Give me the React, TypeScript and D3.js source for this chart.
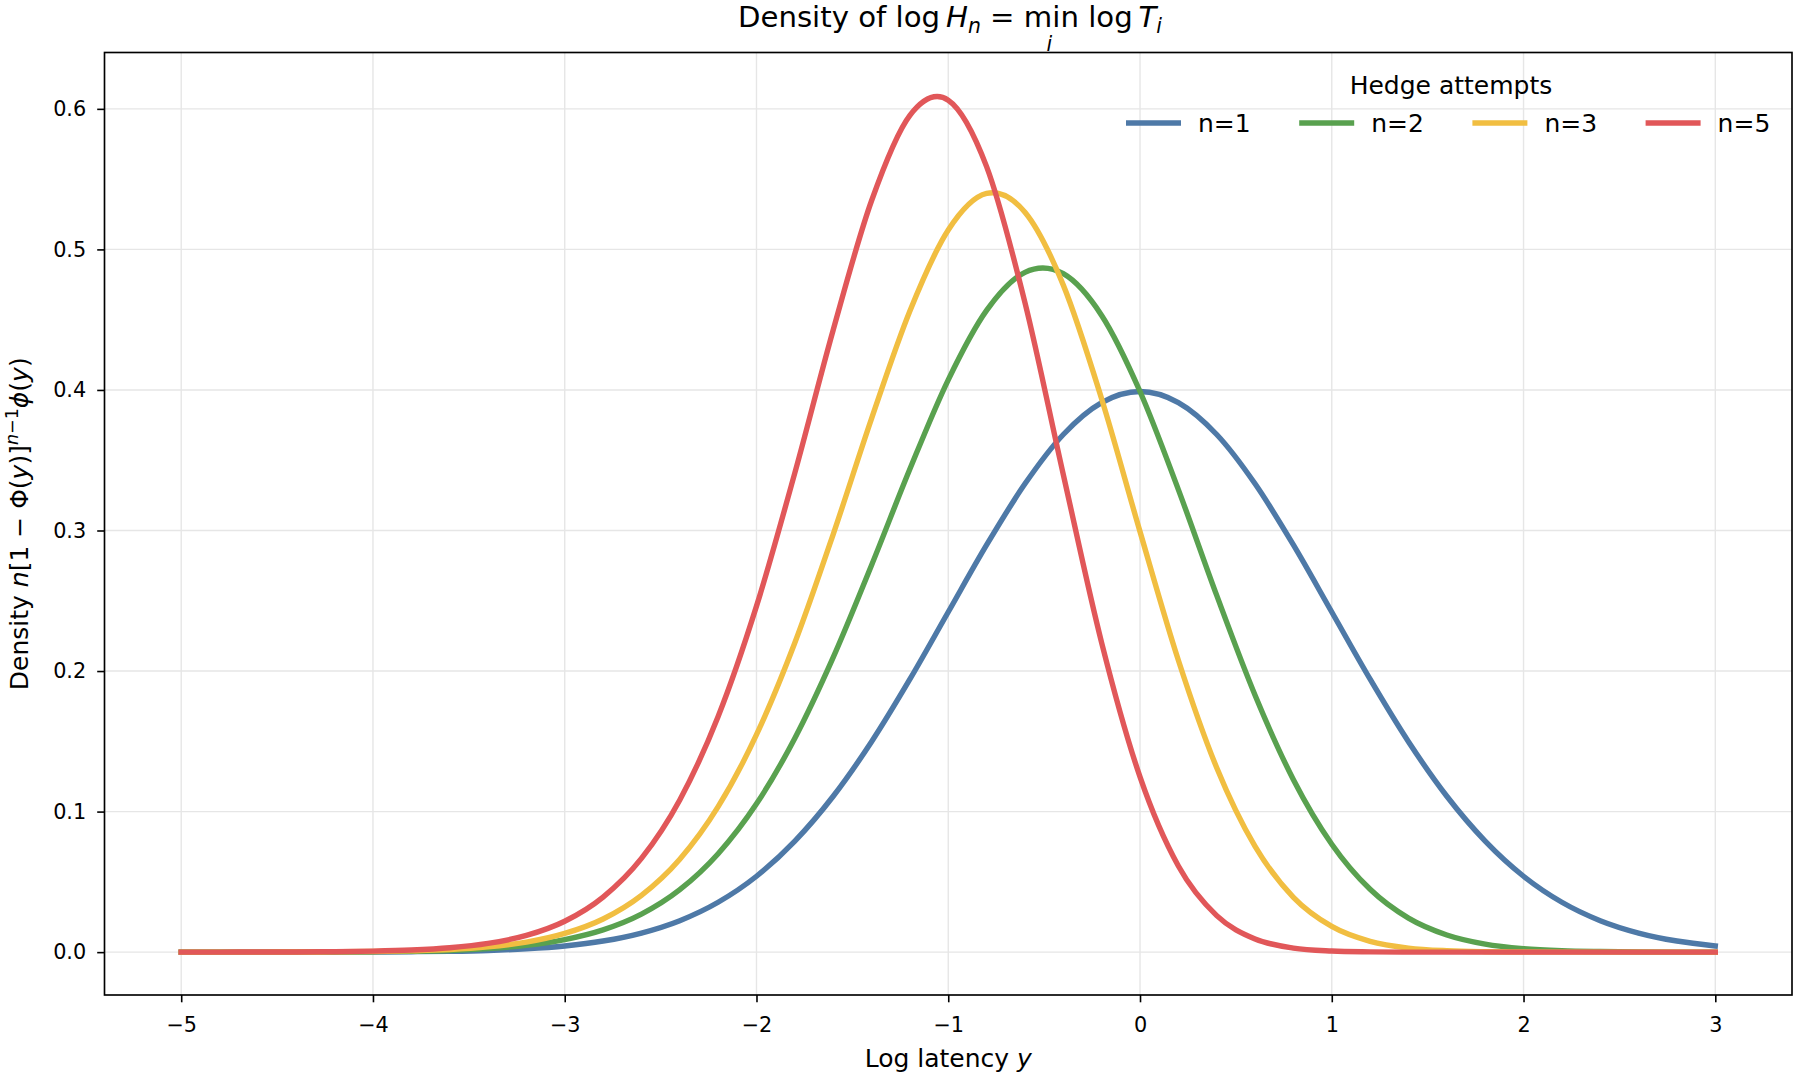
import { useEffect, useRef } from 'react';
import * as d3 from 'd3';

// log latency grid the curves were read on
const logLatency = [
    -5.0, -4.8, -4.6, -4.4, -4.2, -4.0, -3.8, -3.6, -3.4, -3.2,
    -3.0, -2.8, -2.6, -2.4, -2.2, -2.0, -1.8, -1.6, -1.4, -1.2,
    -1.0, -0.8, -0.6, -0.4, -0.2, 0.0, 0.2, 0.4, 0.6, 0.8,
    1.0, 1.2, 1.4, 1.6, 1.8, 2.0, 2.2, 2.4, 2.6, 2.8, 3.0,
];

const seriesNames = ['n=1', 'n=2', 'n=3', 'n=5'];
const seriesColors = ['#4e79a7', '#59a14f', '#f1be41', '#e15759'];

const densityN1 = [
    0.0000, 0.0000, 0.0000, 0.0000, 0.0001, 0.0001, 0.0003, 0.0006, 0.0012, 0.0024,
    0.0044, 0.0079, 0.0136, 0.0224, 0.0355, 0.0540, 0.0790, 0.1109, 0.1497, 0.1942,
    0.2420, 0.2897, 0.3332, 0.3683, 0.3910, 0.3989, 0.3910, 0.3683, 0.3332, 0.2897,
    0.2420, 0.1942, 0.1497, 0.1109, 0.0790, 0.0540, 0.0355, 0.0224, 0.0136, 0.0079, 0.0044,
];

const densityN2 = [
    0.0000, 0.0000, 0.0000, 0.0001, 0.0001, 0.0003, 0.0006, 0.0012, 0.0025, 0.0048,
    0.0089, 0.0158, 0.0270, 0.0444, 0.0700, 0.1055, 0.1522, 0.2097, 0.2753, 0.3437,
    0.4072, 0.4566, 0.4837, 0.4827, 0.4530, 0.3989, 0.3291, 0.2538, 0.1828, 0.1227,
    0.0768, 0.0447, 0.0242, 0.0122, 0.0057, 0.0025, 0.0010, 0.0004, 0.0001, 0.0000, 0.0000,
];

const densityN3 = [
    0.0000, 0.0000, 0.0000, 0.0001, 0.0002, 0.0004, 0.0009, 0.0018, 0.0037, 0.0071,
    0.0133, 0.0236, 0.0404, 0.0661, 0.1035, 0.1547, 0.2201, 0.2973, 0.3796, 0.4562,
    0.5138, 0.5398, 0.5265, 0.4746, 0.3936, 0.2992, 0.2077, 0.1312, 0.0752, 0.0390,
    0.0183, 0.0077, 0.0029, 0.0010, 0.0003, 0.0001, 0.0000, 0.0000, 0.0000, 0.0000, 0.0000,
];

const densityN5 = [
    0.0000, 0.0000, 0.0001, 0.0001, 0.0003, 0.0007, 0.0015, 0.0031, 0.0062, 0.0119,
    0.0220, 0.0392, 0.0667, 0.1083, 0.1677, 0.2462, 0.3410, 0.4427, 0.5346, 0.5954,
    0.6062, 0.5589, 0.4622, 0.3398, 0.2201, 0.1247, 0.0613, 0.0260, 0.0094, 0.0029,
    0.0008, 0.0002, 0.0000, 0.0000, 0.0000, 0.0000, 0.0000, 0.0000, 0.0000, 0.0000, 0.0000,
];

const xTicks = [-5, -4, -3, -2, -1, 0, 1, 2, 3];
const yTicks = [0.0, 0.1, 0.2, 0.3, 0.4, 0.5, 0.6];

const FONT = '"DejaVu Sans", Verdana, sans-serif';

const App = () => {
    const chartRef = useRef<SVGSVGElement>(null);

    useEffect(() => {
        if (!chartRef.current) return;

        const svg = d3.select(chartRef.current);
        svg.selectAll('*').remove();

        const width = 1800;
        const height = 1080;
        const margin = { top: 52.5, right: 8, bottom: 85, left: 104.5 };

        const x = d3.scaleLinear()
            .domain([-5.4, 3.4])
            .range([margin.left, width - margin.right]);

        const y = d3.scaleLinear()
            .domain([-0.0305, 0.6401])
            .range([height - margin.bottom, margin.top]);

        svg.append('rect')
            .attr('width', width)
            .attr('height', height)
            .attr('fill', '#ffffff');

        // grid
        const grid = svg.append('g');
        grid.selectAll('line.vx')
            .data(xTicks)
            .enter()
            .append('line')
            .attr('x1', d => x(d))
            .attr('x2', d => x(d))
            .attr('y1', margin.top)
            .attr('y2', height - margin.bottom)
            .attr('stroke', '#e6e6e6')
            .attr('stroke-width', 1.4);
        grid.selectAll('line.hy')
            .data(yTicks)
            .enter()
            .append('line')
            .attr('x1', margin.left)
            .attr('x2', width - margin.right)
            .attr('y1', d => y(d))
            .attr('y2', d => y(d))
            .attr('stroke', '#e6e6e6')
            .attr('stroke-width', 1.4);

        // curves
        const series = [densityN1, densityN2, densityN3, densityN5];
        const line = d3.line<number>()
            .x((_, i) => x(logLatency[i]))
            .y(d => y(d))
            .curve(d3.curveCardinal.tension(0));

        series.forEach((values, k) => {
            svg.append('path')
                .datum(values)
                .attr('d', line)
                .attr('fill', 'none')
                .attr('stroke', seriesColors[k])
                .attr('stroke-width', 5.4)
                .attr('stroke-linecap', 'square')
                .attr('stroke-linejoin', 'round');
        });

        // axes
        const xAxis = svg.append('g')
            .attr('transform', `translate(0,${height - margin.bottom})`)
            .call(d3.axisBottom(x)
                .tickValues(xTicks)
                .tickFormat(d3.format('d'))
                .tickSize(7.3)
                .tickSizeOuter(0)
                .tickPadding(14.6));
        xAxis.select('.domain').remove();

        const yAxis = svg.append('g')
            .attr('transform', `translate(${margin.left},0)`)
            .call(d3.axisLeft(y)
                .tickValues(yTicks)
                .tickFormat(d3.format('.1f'))
                .tickSize(7.3)
                .tickSizeOuter(0)
                .tickPadding(11));
        yAxis.select('.domain').remove();

        [xAxis, yAxis].forEach(g => {
            g.attr('font-family', FONT).attr('font-size', 20.8);
            g.selectAll('line').attr('stroke', '#000').attr('stroke-width', 1.6);
            g.selectAll('text').attr('fill', '#000');
        });

        // frame
        svg.append('rect')
            .attr('x', margin.left)
            .attr('y', margin.top)
            .attr('width', width - margin.left - margin.right)
            .attr('height', height - margin.top - margin.bottom)
            .attr('fill', 'none')
            .attr('stroke', '#000')
            .attr('stroke-width', 1.65);

        // title
        const title = svg.append('text')
            .attr('x', 950)
            .attr('y', 27)
            .attr('text-anchor', 'middle')
            .attr('font-family', FONT)
            .attr('font-size', 29.2)
            .attr('fill', '#000');
        title.append('tspan').text('Density of log\u2009');
        title.append('tspan').attr('font-style', 'italic').text('H');
        title.append('tspan').attr('font-style', 'italic').attr('font-size', 20.4).attr('dy', 6).text('n');
        title.append('tspan').attr('dy', -6).text(' = ');
        const minSpan = title.append('tspan').text('min');
        title.append('tspan').text(' log\u2009');
        title.append('tspan').attr('font-style', 'italic').text('T');
        title.append('tspan').attr('font-style', 'italic').attr('font-size', 20.4).attr('dy', 6).text('i');

        let minCenter = 1054;
        try {
            const bb = (minSpan.node() as SVGTSpanElement).getBBox();
            if (bb.width > 0) minCenter = bb.x + bb.width / 2;
        } catch (e) {
            // keep default
        }
        svg.append('text')
            .attr('x', minCenter - 2)
            .attr('y', 51)
            .attr('text-anchor', 'middle')
            .attr('font-family', FONT)
            .attr('font-size', 20.4)
            .attr('font-style', 'italic')
            .attr('fill', '#000')
            .text('i');

        // axis labels
        const xLabel = svg.append('text')
            .attr('x', (margin.left + width - margin.right) / 2)
            .attr('y', 1066.5)
            .attr('text-anchor', 'middle')
            .attr('font-family', FONT)
            .attr('font-size', 25)
            .attr('fill', '#000');
        xLabel.append('tspan').text('Log latency ');
        xLabel.append('tspan').attr('font-style', 'italic').text('y');

        const yLabel = svg.append('text')
            .attr('transform', `translate(28,${(margin.top + height - margin.bottom) / 2}) rotate(-90)`)
            .attr('text-anchor', 'middle')
            .attr('font-family', FONT)
            .attr('font-size', 25)
            .attr('fill', '#000');
        yLabel.append('tspan').text('Density ');
        yLabel.append('tspan').attr('font-style', 'italic').text('n');
        yLabel.append('tspan').text('[1 \u2212 \u03A6(');
        yLabel.append('tspan').attr('font-style', 'italic').text('y');
        yLabel.append('tspan').text(')]');
        yLabel.append('tspan').attr('font-style', 'italic').attr('font-size', 17.5).attr('dy', -10).text('n');
        yLabel.append('tspan').attr('font-size', 17.5).text('\u22121');
        yLabel.append('tspan').attr('font-style', 'italic').attr('dy', 10).text('\u03D5');
        yLabel.append('tspan').text('(');
        yLabel.append('tspan').attr('font-style', 'italic').text('y');
        yLabel.append('tspan').text(')');

        // legend
        const legend = svg.append('g')
            .attr('font-family', FONT)
            .attr('font-size', 25);
        legend.append('text')
            .attr('x', 1451)
            .attr('y', 94)
            .attr('text-anchor', 'middle')
            .attr('fill', '#000')
            .text('Hedge attempts');

        const colStep = 173.2;
        seriesNames.forEach((name, k) => {
            const x0 = 1126 + k * colStep;
            legend.append('line')
                .attr('x1', x0)
                .attr('x2', x0 + 55)
                .attr('y1', 123)
                .attr('y2', 123)
                .attr('stroke', seriesColors[k])
                .attr('stroke-width', 5.4);
            legend.append('text')
                .attr('x', x0 + 72)
                .attr('y', 131.5)
                .attr('fill', '#000')
                .text(name);
        });
    }, []);

    return (
        <div style={{ position: 'absolute', left: 0, top: 0 }}>
            <svg ref={chartRef} width={1800} height={1080} style={{ display: 'block' }} />
        </div>
    );
};

export default App;
